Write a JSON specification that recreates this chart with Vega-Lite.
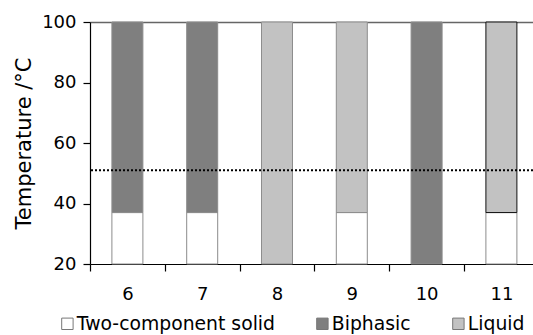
{
  "$schema": "https://vega.github.io/schema/vega-lite/v6.json",
  "width": 443,
  "height": 242,
  "autosize": {"type": "none"},
  "padding": {"left": 90, "top": 22, "right": 0, "bottom": 71},
  "background": "white",
  "config": {
    "font": "DejaVu Sans",
    "view": {"stroke": null},
    "axis": {"labelColor": "#000", "titleColor": "#000", "domainColor": "#000", "tickColor": "#000", "labelFont": "DejaVu Sans", "titleFont": "DejaVu Sans"}
  },
  "datasets": {
    "phases": [
      {"x": 6, "phase": "Two-component solid", "lo": 20, "hi": 37},
      {"x": 6, "phase": "Biphasic", "lo": 37, "hi": 100},
      {"x": 7, "phase": "Two-component solid", "lo": 20, "hi": 37},
      {"x": 7, "phase": "Biphasic", "lo": 37, "hi": 100},
      {"x": 8, "phase": "Liquid", "lo": 20, "hi": 100},
      {"x": 9, "phase": "Two-component solid", "lo": 20, "hi": 37},
      {"x": 9, "phase": "Liquid", "lo": 37, "hi": 100},
      {"x": 10, "phase": "Biphasic", "lo": 20, "hi": 100},
      {"x": 11, "phase": "Two-component solid", "lo": 20, "hi": 37},
      {"x": 11, "phase": "Liquid", "lo": 37, "hi": 100}
    ],
    "line": [{"temp": 51}]
  },
  "layer": [
    {
      "data": {"name": "phases"},
      "mark": {"type": "bar", "width": 31, "strokeWidth": 1},
      "encoding": {
        "x": {
          "field": "x", "type": "quantitative",
          "scale": {"domain": [5.5, 11.4225], "nice": false, "zero": false, "padding": 0},
          "axis": {
            "title": null,
            "values": [5.5, 6, 6.5, 7, 7.5, 8, 8.5, 9, 9.5, 10, 10.5, 11],
            "labelExpr": "datum.value % 1 === 0 ? '' + datum.value : ''",
            "labelOverlap": false,
            "tickOpacity": {"condition": {"test": "datum.value % 1 === 0", "value": 0}, "value": 1},
            "tickSize": 7,
            "tickWidth": 1.2,
            "domainWidth": 1.2,
            "labelFontSize": 18,
            "labelPadding": 14,
            "grid": false
          }
        },
        "y": {
          "field": "lo", "type": "quantitative",
          "scale": {"domain": [20, 100], "nice": false, "zero": false},
          "axis": {
            "title": "Temperature /°C",
            "titleFontSize": 21,
            "titleFontWeight": "normal",
            "titlePadding": 7,
            "values": [20, 40, 60, 80, 100],
            "tickSize": 7,
            "tickWidth": 1.2,
            "domainWidth": 1.2,
            "labelFontSize": 18,
            "labelPadding": 7,
            "grid": true,
            "gridColor": "#666",
            "gridWidth": 1.5,
            "gridOpacity": {"condition": {"test": "datum.value === 100", "value": 1}, "value": 0}
          }
        },
        "y2": {"field": "hi"},
        "color": {
          "field": "phase", "type": "nominal",
          "scale": {"domain": ["Two-component solid", "Biphasic", "Liquid"], "range": ["#ffffff", "#7f7f7f", "#c2c2c2"]},
          "legend": {
            "title": null,
            "orient": "none",
            "direction": "horizontal",
            "legendX": -32,
            "legendY": 292,
            "symbolType": "square",
            "symbolSize": 130,
            "symbolStrokeColor": "#777",
            "symbolStrokeWidth": 1,
            "labelFontSize": 18.8,
            "labelColor": "#000",
            "labelOffset": 0,
            "columnPadding": 38,
            "padding": 0,
            "labelLimit": 400
          }
        },
        "stroke": {
          "condition": {"test": "datum.x === 11 && datum.phase === 'Liquid'", "value": "#111"},
          "value": "#8c8c8c"
        }
      }
    },
    {
      "data": {"name": "line"},
      "mark": {"type": "rule", "color": "#000", "strokeWidth": 1.8, "strokeDash": [2, 2]},
      "encoding": {
        "y": {"field": "temp", "type": "quantitative"}
      }
    }
  ]
}
